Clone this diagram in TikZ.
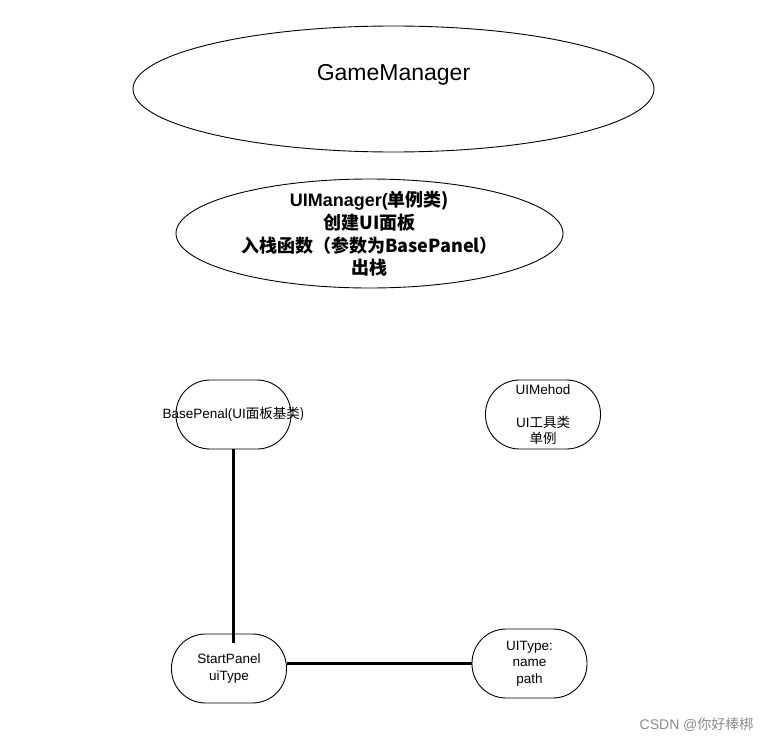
\documentclass[tikz,border=0pt]{standalone}
\usepackage{fontspec}
\setmainfont{Liberation Sans}
\newfontfamily\cjk{Noto Sans CJK SC}
\usetikzlibrary{shapes.geometric}
\begin{document}
\begin{tikzpicture}[x=1pt,y=-1pt,
  oval/.style={draw,ellipse,line width=0.9pt,inner sep=0pt},
  pill/.style={draw,rectangle,rounded corners=34pt,line width=0.9pt,
    minimum width=115pt,minimum height=69pt,inner sep=0pt,
    font=\fontsize{13.5}{16.5}\selectfont,align=center},
  wire/.style={line width=2.4pt}]
\useasboundingbox[fill=white] (0,0) rectangle (770,744);
% top ellipses
\node[oval,minimum width=521pt,minimum height=126pt] (game) at (393.5,89) {};
\node[font=\fontsize{23}{27}\selectfont] (gametext) at (393.5,75) {GameManager};
\node[oval,minimum width=387pt,minimum height=109pt] (uimgr) at (369.5,233.5) {};
\node[align=center,font=\fontsize{18}{22.7}\selectfont\bfseries] (uimgrtext) at (369.5,234)
  {UIManager(\cjk{单例类})\\\cjk{创建}UI\cjk{面板}\\\cjk{入栈函数（参数为}BasePanel\cjk{）}\\\cjk{出栈}};
% panels
\node[pill] (base) at (233.5,414.5) {\makebox[0pt]{BasePenal(UI\cjk{面板基类})}};
\node[pill] (method) at (543,414.5) {UIMehod\\[16.5pt]UI\cjk{工具类}\\\cjk{单例}};
\node[pill] (start) at (229,668.5) {StartPanel\\uiType};
\node[pill] (uitype) at (529.5,663.5) {UIType:\\name\\path};
\coordinate (join) at (233.5,643);
\draw[wire] (base.south) -- (join);
\draw[wire] (start.east |- uitype.west) -- (uitype.west);
% watermark
\node[anchor=east,text=black!45,font=\fontsize{14}{16}\selectfont] (mark) at (757,725) {CSDN @\cjk{你好棒梆}};
\end{tikzpicture}
\end{document}
